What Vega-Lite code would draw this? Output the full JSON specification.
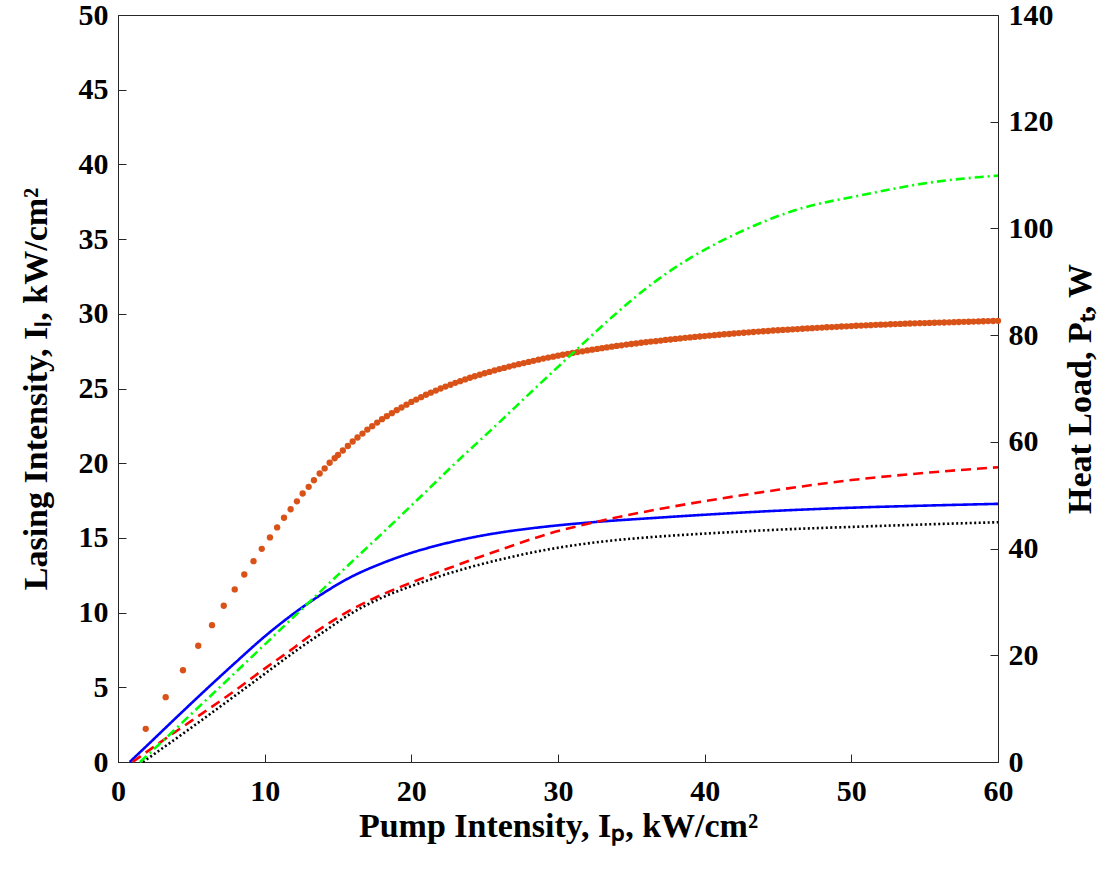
{
  "$schema": "https://vega.github.io/schema/vega-lite/v6.json",
  "width": 880,
  "height": 747,
  "autosize": "none",
  "padding": {"left": 118, "top": 15, "right": 122, "bottom": 122},
  "background": "white",
  "config": {
    "view": {"stroke": "#262626", "strokeWidth": 1},
    "axis": {
      "grid": false,
      "labelFont": "Liberation Serif",
      "labelFontWeight": "bold",
      "labelFontSize": 30,
      "labelColor": "#000000",
      "titleFont": "Liberation Serif",
      "titleFontWeight": "bold",
      "titleFontSize": 34,
      "titleColor": "#000000",
      "domainColor": "#262626",
      "tickColor": "#262626",
      "tickSize": -8,
      "labelFlush": false,
      "labelOverlap": false,
      "labelBound": false
    }
  },
  "data": {
    "values": [
      {"s":"o","x":1.89,"y":2.22},{"s":"o","x":3.25,"y":4.34},{"s":"o","x":4.43,"y":6.14},{"s":"o","x":5.47,"y":7.78},
      {"s":"o","x":6.41,"y":9.16},{"s":"o","x":7.21,"y":10.46},{"s":"o","x":7.96,"y":11.55},{"s":"o","x":8.61,"y":12.55},
      {"s":"o","x":9.24,"y":13.44},{"s":"o","x":9.8,"y":14.27},{"s":"o","x":10.36,"y":15.03},{"s":"o","x":10.85,"y":15.7},
      {"s":"o","x":11.32,"y":16.35},{"s":"o","x":11.77,"y":16.92},{"s":"o","x":12.2,"y":17.45},{"s":"o","x":12.59,"y":17.97},
      {"s":"o","x":13.0,"y":18.42},{"s":"o","x":13.36,"y":18.86},{"s":"o","x":13.75,"y":19.31},{"s":"o","x":14.09,"y":19.65},
      {"s":"o","x":14.43,"y":20.03},{"s":"o","x":14.77,"y":20.33},
      {"s":"o","x":15.0,"y":20.55},{"s":"o","x":15.33,"y":20.85},{"s":"o","x":15.67,"y":21.15},
      {"s":"o","x":16.0,"y":21.45},{"s":"o","x":16.33,"y":21.72},{"s":"o","x":16.67,"y":21.98},
      {"s":"o","x":17.0,"y":22.25},{"s":"o","x":17.33,"y":22.48},{"s":"o","x":17.67,"y":22.72},
      {"s":"o","x":18.0,"y":22.95},{"s":"o","x":18.33,"y":23.15},{"s":"o","x":18.67,"y":23.35},
      {"s":"o","x":19.0,"y":23.55},{"s":"o","x":19.33,"y":23.73},{"s":"o","x":19.67,"y":23.92},
      {"s":"o","x":20.0,"y":24.1},{"s":"o","x":20.33,"y":24.26},{"s":"o","x":20.67,"y":24.42},
      {"s":"o","x":21.0,"y":24.58},{"s":"o","x":21.33,"y":24.72},{"s":"o","x":21.67,"y":24.86},
      {"s":"o","x":22.0,"y":25.0},{"s":"o","x":22.33,"y":25.13},{"s":"o","x":22.67,"y":25.25},
      {"s":"o","x":23.0,"y":25.38},{"s":"o","x":23.33,"y":25.49},{"s":"o","x":23.67,"y":25.61},
      {"s":"o","x":24.0,"y":25.72},{"s":"o","x":24.33,"y":25.82},{"s":"o","x":24.67,"y":25.92},
      {"s":"o","x":25.0,"y":26.02},{"s":"o","x":25.33,"y":26.11},{"s":"o","x":25.67,"y":26.21},
      {"s":"o","x":26.0,"y":26.3},{"s":"o","x":26.33,"y":26.38},{"s":"o","x":26.67,"y":26.47},
      {"s":"o","x":27.0,"y":26.55},{"s":"o","x":27.33,"y":26.63},{"s":"o","x":27.67,"y":26.7},
      {"s":"o","x":28.0,"y":26.78},{"s":"o","x":28.33,"y":26.85},{"s":"o","x":28.67,"y":26.93},
      {"s":"o","x":29.0,"y":27.0},{"s":"o","x":29.33,"y":27.07},{"s":"o","x":29.67,"y":27.13},
      {"s":"o","x":30.0,"y":27.2},{"s":"o","x":30.33,"y":27.26},{"s":"o","x":30.67,"y":27.32},
      {"s":"o","x":31.0,"y":27.38},{"s":"o","x":31.33,"y":27.44},{"s":"o","x":31.67,"y":27.49},
      {"s":"o","x":32.0,"y":27.55},{"s":"o","x":32.33,"y":27.6},{"s":"o","x":32.67,"y":27.65},
      {"s":"o","x":33.0,"y":27.7},{"s":"o","x":33.33,"y":27.75},{"s":"o","x":33.67,"y":27.8},
      {"s":"o","x":34.0,"y":27.85},{"s":"o","x":34.33,"y":27.89},{"s":"o","x":34.67,"y":27.94},
      {"s":"o","x":35.0,"y":27.98},{"s":"o","x":35.33,"y":28.02},{"s":"o","x":35.67,"y":28.06},
      {"s":"o","x":36.0,"y":28.1},{"s":"o","x":36.33,"y":28.14},{"s":"o","x":36.67,"y":28.17},
      {"s":"o","x":37.0,"y":28.21},{"s":"o","x":37.33,"y":28.25},{"s":"o","x":37.67,"y":28.28},
      {"s":"o","x":38.0,"y":28.32},{"s":"o","x":38.33,"y":28.35},{"s":"o","x":38.67,"y":28.39},
      {"s":"o","x":39.0,"y":28.42},{"s":"o","x":39.33,"y":28.45},{"s":"o","x":39.67,"y":28.48},
      {"s":"o","x":40.0,"y":28.51},{"s":"o","x":40.33,"y":28.54},{"s":"o","x":40.67,"y":28.57},
      {"s":"o","x":41.0,"y":28.6},{"s":"o","x":41.33,"y":28.63},{"s":"o","x":41.67,"y":28.65},
      {"s":"o","x":42.0,"y":28.68},{"s":"o","x":42.33,"y":28.71},{"s":"o","x":42.67,"y":28.73},
      {"s":"o","x":43.0,"y":28.76},{"s":"o","x":43.33,"y":28.78},{"s":"o","x":43.67,"y":28.81},
      {"s":"o","x":44.0,"y":28.83},{"s":"o","x":44.33,"y":28.85},{"s":"o","x":44.67,"y":28.88},
      {"s":"o","x":45.0,"y":28.9},{"s":"o","x":45.33,"y":28.92},{"s":"o","x":45.67,"y":28.94},
      {"s":"o","x":46.0,"y":28.96},{"s":"o","x":46.33,"y":28.98},{"s":"o","x":46.67,"y":29.0},
      {"s":"o","x":47.0,"y":29.02},{"s":"o","x":47.33,"y":29.04},{"s":"o","x":47.67,"y":29.06},
      {"s":"o","x":48.0,"y":29.08},{"s":"o","x":48.33,"y":29.1},{"s":"o","x":48.67,"y":29.11},
      {"s":"o","x":49.0,"y":29.13},{"s":"o","x":49.33,"y":29.15},{"s":"o","x":49.67,"y":29.16},
      {"s":"o","x":50.0,"y":29.18},{"s":"o","x":50.33,"y":29.2},{"s":"o","x":50.67,"y":29.21},
      {"s":"o","x":51.0,"y":29.23},{"s":"o","x":51.33,"y":29.24},{"s":"o","x":51.67,"y":29.26},
      {"s":"o","x":52.0,"y":29.27},{"s":"o","x":52.33,"y":29.28},{"s":"o","x":52.67,"y":29.3},
      {"s":"o","x":53.0,"y":29.31},{"s":"o","x":53.33,"y":29.32},{"s":"o","x":53.67,"y":29.34},
      {"s":"o","x":54.0,"y":29.35},{"s":"o","x":54.33,"y":29.36},{"s":"o","x":54.67,"y":29.37},
      {"s":"o","x":55.0,"y":29.38},{"s":"o","x":55.33,"y":29.39},{"s":"o","x":55.67,"y":29.4},
      {"s":"o","x":56.0,"y":29.41},{"s":"o","x":56.33,"y":29.42},{"s":"o","x":56.67,"y":29.43},
      {"s":"o","x":57.0,"y":29.44},{"s":"o","x":57.33,"y":29.45},{"s":"o","x":57.67,"y":29.46},
      {"s":"o","x":58.0,"y":29.47},{"s":"o","x":58.33,"y":29.48},{"s":"o","x":58.67,"y":29.49},
      {"s":"o","x":59.0,"y":29.5},{"s":"o","x":59.33,"y":29.51},{"s":"o","x":59.67,"y":29.52},
      {"s":"o","x":60.0,"y":29.53},

      {"s":"b","x":0.8,"y":0},{"s":"b","x":2,"y":1.12},{"s":"b","x":4,"y":3.0},{"s":"b","x":6,"y":4.85},
      {"s":"b","x":8,"y":6.65},{"s":"b","x":10,"y":8.4},{"s":"b","x":12,"y":9.95},{"s":"b","x":13,"y":10.65},
      {"s":"b","x":14,"y":11.3},{"s":"b","x":15.82,"y":12.35},{"s":"b","x":18,"y":13.3},{"s":"b","x":20,"y":14.0},
      {"s":"b","x":22,"y":14.55},{"s":"b","x":24,"y":15.0},{"s":"b","x":26,"y":15.35},{"s":"b","x":28,"y":15.62},
      {"s":"b","x":30,"y":15.84},{"s":"b","x":33,"y":16.1},{"s":"b","x":36,"y":16.3},{"s":"b","x":40,"y":16.55},
      {"s":"b","x":45,"y":16.82},{"s":"b","x":50,"y":17.02},{"s":"b","x":55,"y":17.16},{"s":"b","x":60,"y":17.28},

      {"s":"r","x":1,"y":0},{"s":"r","x":3,"y":1.4},{"s":"r","x":5,"y":2.75},{"s":"r","x":7.86,"y":4.7},
      {"s":"r","x":10,"y":6.25},{"s":"r","x":12,"y":7.65},{"s":"r","x":13.09,"y":8.45},{"s":"r","x":14,"y":9.05},
      {"s":"r","x":15.82,"y":10.15},{"s":"r","x":18,"y":11.2},{"s":"r","x":20.36,"y":12.15},{"s":"r","x":22.64,"y":13.0},
      {"s":"r","x":26.05,"y":14.2},{"s":"r","x":29.45,"y":15.3},{"s":"r","x":33.32,"y":16.23},{"s":"r","x":37,"y":16.95},
      {"s":"r","x":41,"y":17.62},{"s":"r","x":45,"y":18.22},{"s":"r","x":50,"y":18.87},{"s":"r","x":55,"y":19.35},
      {"s":"r","x":60,"y":19.73},

      {"s":"k","x":1.7,"y":0},{"s":"k","x":3,"y":0.9},{"s":"k","x":5,"y":2.3},{"s":"k","x":7.86,"y":4.35},
      {"s":"k","x":10,"y":5.9},{"s":"k","x":12,"y":7.35},{"s":"k","x":13.09,"y":8.1},{"s":"k","x":14,"y":8.7},
      {"s":"k","x":15.82,"y":9.9},{"s":"k","x":18,"y":11.0},{"s":"k","x":20.36,"y":11.9},{"s":"k","x":22.64,"y":12.65},
      {"s":"k","x":26.05,"y":13.55},{"s":"k","x":29.45,"y":14.25},{"s":"k","x":33,"y":14.75},{"s":"k","x":37,"y":15.1},
      {"s":"k","x":41,"y":15.34},{"s":"k","x":45,"y":15.55},{"s":"k","x":50.13,"y":15.74},{"s":"k","x":55,"y":15.9},
      {"s":"k","x":60,"y":16.05},

      {"s":"g","x":1.5,"y":0},{"s":"g","x":3,"y":3.8},{"s":"g","x":5,"y":9.0},{"s":"g","x":7.86,"y":16.4},
      {"s":"g","x":10,"y":22.0},{"s":"g","x":13.09,"y":30.1},{"s":"g","x":15.82,"y":37.2},{"s":"g","x":18,"y":42.8},
      {"s":"g","x":20.36,"y":49.0},{"s":"g","x":23,"y":56.0},{"s":"g","x":26.05,"y":63.8},{"s":"g","x":28,"y":68.9},
      {"s":"g","x":31.27,"y":77.3},{"s":"g","x":33.77,"y":83.6},{"s":"g","x":36.5,"y":89.8},{"s":"g","x":39.23,"y":94.8},
      {"s":"g","x":42,"y":98.8},{"s":"g","x":46.27,"y":103.5},{"s":"g","x":50.82,"y":106.3},{"s":"g","x":55.36,"y":108.6},
      {"s":"g","x":60,"y":109.9}
    ]
  },
  "layer": [
    {
      "layer": [
        {
          "transform": [{"filter": "datum.s === 'o'"}],
          "mark": {"type": "point", "filled": true, "size": 40, "opacity": 1, "color": "#D95319", "strokeWidth": 0},
          "encoding": {
            "x": {"field": "x", "type": "quantitative", "scale": {"domain": [0, 60], "nice": false},
              "axis": {"values": [0, 10, 20, 30, 40, 50, 60], "title": "Pump Intensity, Iₚ, kW/cm²", "labelPadding": 22, "titlePadding": 3}},
            "y": {"field": "y", "type": "quantitative", "scale": {"domain": [0, 50], "nice": false},
              "axis": {"orient": "left", "values": [0, 5, 10, 15, 20, 25, 30, 35, 40, 45, 50], "title": "Lasing Intensity, Iₗ, kW/cm²", "labelPadding": 18, "titlePadding": 25}}
          }
        },
        {
          "transform": [{"filter": "datum.s === 'b' || datum.s === 'r' || datum.s === 'k'"}],
          "mark": {"type": "line", "strokeWidth": 2.6, "interpolate": "monotone"},
          "encoding": {
            "x": {"field": "x", "type": "quantitative"},
            "y": {"field": "y", "type": "quantitative"},
            "color": {"field": "s", "type": "nominal", "scale": {"domain": ["b", "r", "k"], "range": ["#0000FF", "#FF0000", "#000000"]}, "legend": null},
            "strokeDash": {"field": "s", "type": "nominal", "scale": {"domain": ["b", "r", "k"], "range": [[1, 0], [10, 6], [2, 2.5]]}, "legend": null}
          }
        }
      ]
    },
    {
      "transform": [{"filter": "datum.s === 'g'"}],
      "mark": {"type": "line", "strokeWidth": 2.6, "color": "#00FF00", "strokeDash": [9, 4, 2, 4], "interpolate": "monotone"},
      "encoding": {
        "x": {"field": "x", "type": "quantitative"},
        "y": {"field": "y", "type": "quantitative", "scale": {"domain": [0, 140], "nice": false},
          "axis": {"orient": "right", "values": [0, 20, 40, 60, 80, 100, 120, 140], "title": "Heat Load, Pₜ, W", "labelPadding": 18, "titlePadding": 10, "titleAngle": 270, "titleBaseline": "top"}}
      }
    }
  ],
  "resolve": {"scale": {"y": "independent"}}
}
